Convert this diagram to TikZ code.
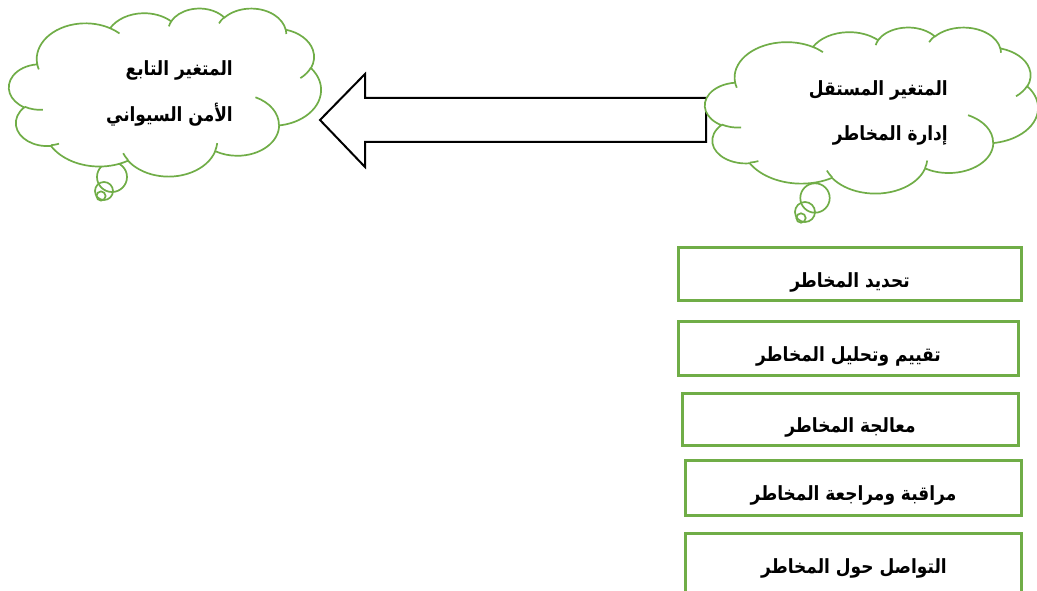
\documentclass[tikz,border=0pt]{standalone}
\usepackage{graphicx}
\usepackage{fontspec}
\TeXXeTstate=1
\newfontfamily\arabicfont[Script=Arabic]{DejaVu Sans}
\definecolor{cgreen}{HTML}{70AD47}
\newcommand\artext[1]{\scalebox{1}[1.15]{\arabicfont\bfseries\beginR #1\endR}}
\tikzset{
  cloudline/.style={draw=cgreen, line width=1.7pt},
  stagebox/.style={draw=cgreen, line width=3pt, rectangle, inner sep=0pt},
  lbl/.style={inner sep=0pt, font=\fontsize{17}{20}\selectfont},
}
% Office-style cloud in a frame (x0,y0) of width w and height h
\newcommand\officecloud[4]{%
\begin{scope}[shift={(#1,#2)}, xscale=#3/432, yscale=-#4/432, x=1pt, y=1pt]
\draw[cloudline, fill=white] (39.00,143.70)
 arc[start angle=-187.747, end angle=-59.65, x radius=67.53, y radius=91.90]
 arc[start angle=-152.024, end angle=-45.469, x radius=53.33, y radius=72.67]
 arc[start angle=-153.481, end angle=-37.322, x radius=43.65, y radius=59.45]
 arc[start angle=-139.721, end angle=-10.211, x radius=48.57, y radius=65.95]
 arc[start angle=-74.759, end angle=23.208, x radius=53.33, y radius=72.73]
 arc[start angle=-37.526, end angle=81.855, x radius=67.75, y radius=92.20]
 arc[start angle=0.4596, end angle=121.941, x radius=57.85, y radius=78.67]
 arc[start angle=16.845, end angle=146.247, x radius=67.52, y radius=92.15]
 arc[start angle=59.019, end angle=150.171, x radius=77.20, y radius=105.43]
 arc[start angle=-276.698, end angle=-136.913, x radius=43.60, y radius=59.18]
 arc[start angle=-239.635, end angle=-95.891, x radius=43.45, y radius=59.45]
 -- cycle;
\draw[cloudline]
 (46.93,261.77) arc[start angle=85.542, end angle=120.365, x radius=43.45, y radius=59.45]
 (69.28,348.99) arc[start angle=68.27, end angle=83.302, x radius=43.60, y radius=59.18]
 (164.78,390.90) arc[start angle=146.247, end angle=158.48, x radius=67.52, y radius=92.15]
 (288.27,347.51) arc[start angle=4.738, end angle=16.845, x radius=67.52, y radius=92.15]
 (341.29,229.54) arc[start angle=-63.98, end angle=0.4596, x radius=57.85, y radius=78.67]
 (417.98,153.54) arc[start angle=23.208, end angle=49.66, x radius=53.33, y radius=72.73]
 (383.24,54.26) arc[start angle=-10.211, end angle=0.821, x radius=48.57, y radius=65.95]
 (290.78,39.52) arc[start angle=-156.278, end angle=-139.721, x radius=48.57, y radius=65.95]
 (221.41,47.20) arc[start angle=-167.726, end angle=-153.481, x radius=43.65, y radius=59.45]
 (140.00,51.92) arc[start angle=-59.65, end angle=-45.76, x radius=67.53, y radius=91.90]
 (41.27,157.89) arc[start angle=163.193, end angle=172.253, x radius=67.53, y radius=91.90];
\end{scope}}
\begin{document}
\begin{tikzpicture}[x=1pt, y=-1pt]
\useasboundingbox (0,0) rectangle (1037,591);
\fill[white] (0,0) rectangle (1037,591);

% block arrow from the independent to the dependent variable
\coordinate (tip) at (320,120);
\coordinate (tail) at (706,120);
\draw[black, line width=2pt, fill=white, line join=miter]
  (tip) -- (365,74) -- (365,98) -- (tail |- 0,98) -- (tail |- 0,142) -- (365,142) -- (365,167) -- cycle;

% thought bubbles (left)
\draw[cloudline] (112,177) circle[radius=15];
\draw[cloudline] (104,191) circle[radius=9];
\draw[cloudline] (101,196) circle[radius=4.6];
% thought bubbles (right)
\draw[cloudline] (815,198) circle[radius=14.7];
\draw[cloudline] (805,212) circle[radius=10];
\draw[cloudline] (801,218) circle[radius=4.7];

\officecloud{9}{8}{312}{168}
\officecloud{705}{27}{333}{166}

% cloud texts
\node[lbl, anchor=east] (dep1) at (233,70) {\artext{المتغير التابع}};
\node[lbl, anchor=east] (dep2) at (233,115) {\artext{الأمن السيواني}};
\node[lbl, anchor=east] (ind1) at (948,90) {\artext{المتغير المستقل}};
\node[lbl, anchor=east] (ind2) at (948,135) {\artext{إدارة المخاطر}};

% stages of risk management
\node[stagebox, minimum width=343pt, minimum height=53pt] (b1) at (850,274) {};
\node[stagebox, minimum width=340pt, minimum height=54pt] (b2) at (848.5,348.5) {};
\node[stagebox, minimum width=336pt, minimum height=52pt] (b3) at (850.5,419.5) {};
\node[stagebox, minimum width=336pt, minimum height=55pt] (b4) at (853.5,488) {};
\node[stagebox, minimum width=336pt, minimum height=66pt] (b5) at (853.5,566) {};

\node[lbl] (t1) at ([yshift=-8pt]b1.center) {\artext{تحديد المخاطر}};
\node[lbl] (t2) at ([yshift=-8pt]b2.center) {\artext{تقييم وتحليل المخاطر}};
\node[lbl] (t3) at ([yshift=-8pt]b3.center) {\artext{معالجة المخاطر}};
\node[lbl] (t4) at ([yshift=-7pt]b4.center) {\artext{مراقبة ومراجعة المخاطر}};
\node[lbl] (t5) at (854,568) {\artext{التواصل حول المخاطر}};
\end{tikzpicture}
\end{document}
